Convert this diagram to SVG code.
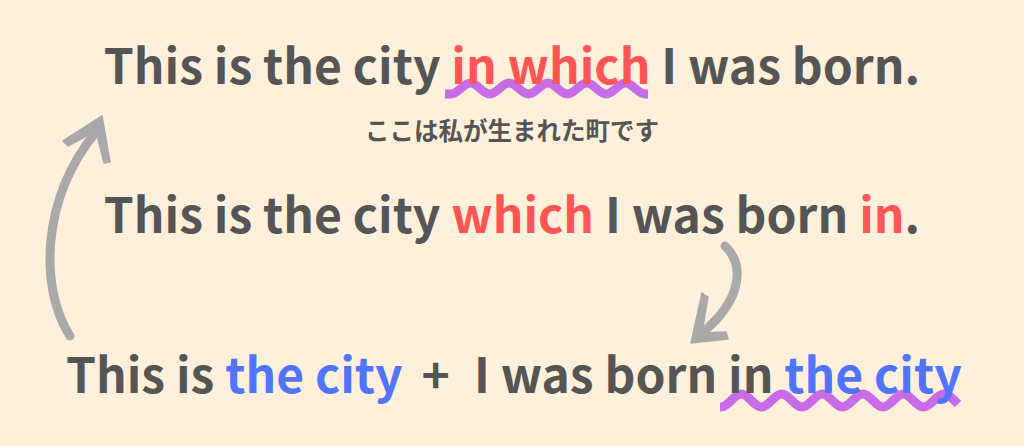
<svg xmlns="http://www.w3.org/2000/svg" width="1024" height="446" viewBox="0 0 1024 446">
<style>
.t{font-family:"Noto Sans CJK JP","Noto Sans",sans-serif;font-weight:700;font-size:48px;fill:#555555}
.r{fill:#FF5555}
.b{fill:#5174FF}
.jp{font-family:"Noto Sans CJK JP",sans-serif;font-weight:700;font-size:24.5px;fill:#555555}
.wave{fill:none;stroke:#C86BE6;stroke-width:9;stroke-linecap:butt}
.shaft{fill:none;stroke:#A9A9A9;stroke-width:9;stroke-linecap:round}
.head{fill:#A9A9A9;stroke:#A9A9A9;stroke-width:1.5;stroke-linejoin:round}
</style>
<rect width="1024" height="446" fill="#FEF0DB"/>
<g id="wave1">
<path class="wave" d="M445,94 L451,94 C458.07,94 463.33,83 470.4,83 C477.47,83 482.73,94 489.8,94 C496.87,94 502.13,83 509.2,83 C516.27,83 521.53,94 528.6,94 C535.67,94 540.93,83 548,83 C555.07,83 560.33,94 567.4,94 C574.47,94 579.73,83 586.8,83 C593.87,83 599.13,94 606.2,94 C613.27,94 618.53,83 625.6,83 C632.67,83 637.93,94 645,94 L648,94"/>
</g>
<g id="wave2">
<path class="wave" d="M720,407 L721,407 C728.375,407 733.875,394 741.25,394 C748.625,394 754.125,407 761.5,407 C768.875,407 774.375,394 781.75,394 C789.125,394 794.625,407 802,407 C809.375,407 814.875,394 822.25,394 C829.625,394 835.125,407 842.5,407 C849.875,407 855.375,394 862.75,394 C870.125,394 875.625,407 883,407 C890.375,407 895.875,394 903.25,394 C910.625,394 916.125,407 923.5,407 C930.875,407 936.375,394 943.75,394 C949,394 954,400 958,404"/>
</g>
<g id="line1">
<text class="t" x="512" y="84" text-anchor="middle">This is the city <tspan class="r">in which</tspan> I was born.</text>
</g>
<g id="jp">
<text class="jp" x="512" y="140" text-anchor="middle">ここは私が生まれた町です</text>
</g>
<g id="line2">
<text class="t" x="512" y="233" text-anchor="middle">This is the city <tspan class="r">which</tspan> I was born <tspan class="r">in</tspan>.</text>
</g>
<g id="line3">
<text class="t" x="66" y="393">This is <tspan class="b">the city</tspan><tspan dx="19">+</tspan><tspan dx="24">I was born in </tspan><tspan class="b">the city</tspan></text>
</g>
<g id="connectors">
<path class="shaft" d="M70,336 C40,290 40,200 96,132"/>
<polygon class="head" points="102,116 63,141 68,146 96,131 104,163 110,162"/>
<path class="shaft" d="M725,246 C745,265 742,300 702,333"/>
<polygon class="head" points="691,343 702,293 708,297 702,333 726,332 728,339"/>
</g>
</svg>
